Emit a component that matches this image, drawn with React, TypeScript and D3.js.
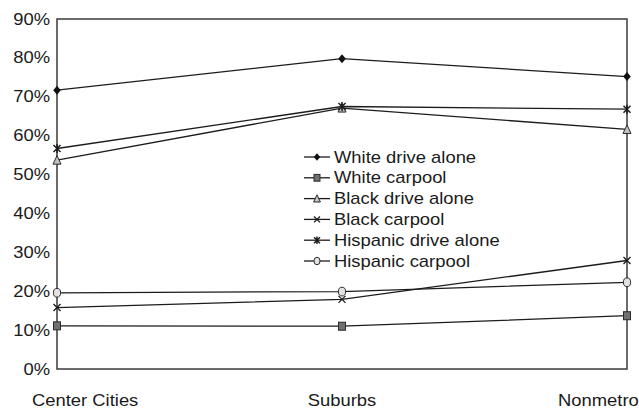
import React from "react";
import * as d3 from "d3";

const categories = ["Center Cities", "Suburbs", "Nonmetro"];
const seriesNames = [
  "White drive alone",
  "White carpool",
  "Black drive alone",
  "Black carpool",
  "Hispanic drive alone",
  "Hispanic carpool",
];
const whiteDriveAlone = [71.7, 79.8, 75.2];
const whiteCarpool = [11.1, 11.0, 13.7];
const blackDriveAlone = [53.7, 67.1, 61.6];
const blackCarpool = [15.8, 17.9, 27.9];
const hispanicDriveAlone = [56.7, 67.5, 66.8];
const hispanicCarpool = [19.6, 19.9, 22.3];
const markerKinds = ["diamond", "square", "triangle", "x", "asterisk", "circle"];
const yTicks = [0, 10, 20, 30, 40, 50, 60, 70, 80, 90];

const W = 639;
const H = 412;
const M = { left: 57, right: 12, top: 19, bottom: 43 };
const FONT = "'Liberation Sans', Arial, Helvetica, sans-serif";
const SX = 1.15;
const LINE = "#1c1c1c";

function Marker({ kind, x, y, s = 1 }: { kind: string; x: number; y: number; s?: number }) {
  const st = { stroke: "#2a2a2a", strokeWidth: 1 };
  switch (kind) {
    case "diamond":
      return <path d={`M${x},${y - 4.5 * s}L${x + 3.8 * s},${y}L${x},${y + 4.5 * s}L${x - 3.8 * s},${y}Z`} fill="#111" />;
    case "square":
      return <rect x={x - 3.5 * s} y={y - 4 * s} width={7 * s} height={8 * s} fill="#707070" {...st} />;
    case "triangle":
      return <path d={`M${x},${y - 4.5 * s}L${x + 4 * s},${y + 4 * s}L${x - 4 * s},${y + 4 * s}Z`} fill="#c4c4c4" {...st} />;
    case "x":
      return (
        <path d={`M${x - 3.5 * s},${y - 3.5 * s}L${x + 3.5 * s},${y + 3.5 * s}M${x + 3.5 * s},${y - 3.5 * s}L${x - 3.5 * s},${y + 3.5 * s}`} stroke="#1c1c1c" strokeWidth={1.3} fill="none" />
      );
    case "asterisk":
      return (
        <path d={`M${x - 3.5 * s},${y - 3.5 * s}L${x + 3.5 * s},${y + 3.5 * s}M${x + 3.5 * s},${y - 3.5 * s}L${x - 3.5 * s},${y + 3.5 * s}M${x},${y - 4.5 * s}L${x},${y + 4.5 * s}`} stroke="#1c1c1c" strokeWidth={1.5} fill="none" />
      );
    case "circle":
      return <ellipse cx={x} cy={y} rx={3.6 * s} ry={4.4 * s} fill="#e2e2e2" {...st} />;
    default:
      return null;
  }
}

export default function App() {
  const series = [whiteDriveAlone, whiteCarpool, blackDriveAlone, blackCarpool, hispanicDriveAlone, hispanicCarpool];
  const x = d3.scalePoint<string>().domain(categories).range([M.left, W - M.right]).padding(0);
  const y = d3.scaleLinear().domain([0, 90]).range([H - M.bottom, M.top]);
  const line = d3
    .line<number>()
    .x((_, i) => x(categories[i]) as number)
    .y((d) => y(d));

  const legendX = 304;
  const legendY0 = 157;
  const legendStep = 20.8;

  const labelAnchor = (i: number) => (i === 0 ? "start" : i === categories.length - 1 ? "start" : "middle");
  const labelX = (i: number) => {
    const cx = x(categories[i]) as number;
    if (i === 0) return cx - 25;
    if (i === categories.length - 1) return cx - 69;
    return cx;
  };

  return (
    <svg width={W} height={H} style={{ position: "absolute", left: 0, top: 0, background: "#fff" }} fontFamily={FONT}>
      {/* frame */}
      <rect x={M.left} y={M.top} width={W - M.left - M.right} height={H - M.top - M.bottom} fill="none" stroke="#3a3a3a" strokeWidth={1.5} />
      {/* y ticks */}
      {yTicks.map((t) => (
        <g key={t} transform={`translate(${M.left - 7},${y(t)}) scale(${SX},1)`}>
          <text textAnchor="end" dominantBaseline="central" fontSize={16} fill="#1a1a1a">
            {t}%
          </text>
        </g>
      ))}
      {/* x labels */}
      {categories.map((c, i) => (
        <g key={c} transform={`translate(${labelX(i)},${H - 6}) scale(${SX},1)`}>
          <text textAnchor={labelAnchor(i)} fontSize={16} fill="#1a1a1a">
            {c}
          </text>
        </g>
      ))}
      {/* lines */}
      {series.map((s, k) => (
        <path key={k} d={line(s) || ""} fill="none" stroke={LINE} strokeWidth={1.3} />
      ))}
      {series.map((s, k) => (
        <g key={`m${k}`}>
          {s.map((v, i) => (
            <Marker key={i} kind={markerKinds[k]} x={x(categories[i]) as number} y={y(v)} />
          ))}
        </g>
      ))}
      {/* legend */}
      {seriesNames.map((n, k) => {
        const ly = legendY0 + k * legendStep;
        return (
          <g key={n}>
            <line x1={legendX} x2={legendX + 26} y1={ly} y2={ly} stroke={LINE} strokeWidth={1.3} />
            <Marker kind={markerKinds[k]} x={legendX + 13} y={ly} s={0.85} />
            <g transform={`translate(${legendX + 30},${ly}) scale(${SX},1)`}>
              <text dominantBaseline="central" fontSize={16} fill="#1a1a1a">
                {n}
              </text>
            </g>
          </g>
        );
      })}
    </svg>
  );
}
